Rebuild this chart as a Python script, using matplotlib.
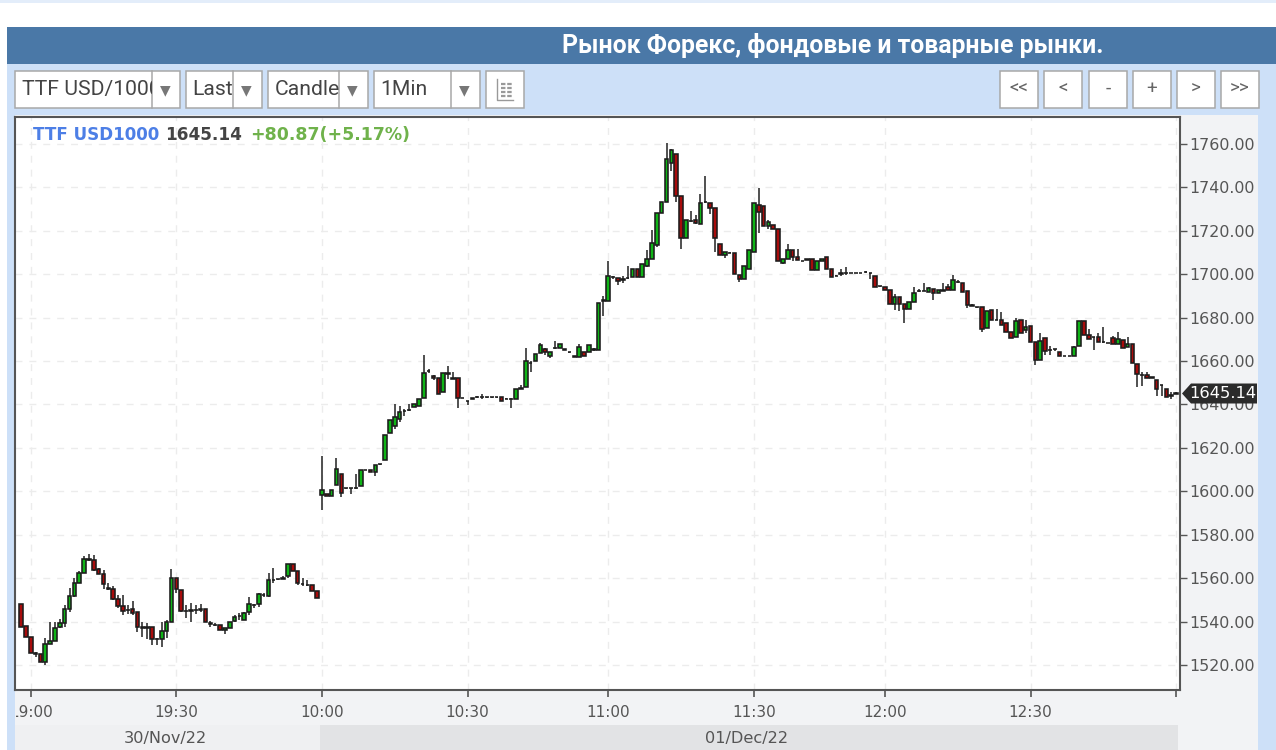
import numpy as np
import matplotlib
matplotlib.use("Agg")
import matplotlib.pyplot as plt
from matplotlib.patches import Rectangle, Polygon
from matplotlib.transforms import Bbox

# ---------- data (1-minute candles, index 0 = 19:00) ----------
open_ = [
1548.2,1538.0,1532.8,1525.4,1524.9,1521.5,1529.7,1531.1,1537.4,1539.2,
1545.7,1552.0,1557.7,1562.6,1568.9,1568.2,1564.2,1562.0,1555.7,1554.9,
1550.3,1547.2,1545.4,1545.7,1544.2,1537.4,1537.4,1537.7,1532.2,1532.2,
1535.8,1540.0,1560.0,1554.6,1545.1,1545.2,1545.4,1545.7,1545.7,1539.2,
1538.6,1538.5,1536.2,1536.9,1540.3,1542.6,1540.8,1544.2,1547.7,1548.0,
1552.3,1551.8,1559.2,1559.5,1560.0,1560.8,1566.5,1563.4,1557.4,1556.9,
1556.9,1554.3,1598.5,1598.9,1597.7,1603.1,1608.0,1601.5,1601.5,1601.5,
1602.3,1610.0,1609.6,1608.8,1612.4,1614.4,1627.0,1630.1,1633.5,1636.9,
1637.6,1638.9,1639.4,1643.0,1655.3,1653.0,1652.1,1645.6,1654.1,1652.1,
1652.1,1643.0,1641.6,1643.1,1643.3,1643.5,1643.3,1643.3,1643.3,1643.3,
1642.7,1642.7,1642.3,1647.1,1647.9,1659.0,1660.0,1663.8,1665.7,1662.1,
1666.0,1666.2,1665.4,1664.1,1662.3,1661.8,1664.1,1664.1,1665.4,1665.1,
1687.8,1687.8,1698.6,1698.3,1697.6,1698.2,1698.9,1702.2,1698.9,1703.7,
1707.1,1713.3,1728.0,1733.4,1751.2,1755.4,1736.0,1716.7,1724.6,1724.8,
1723.1,1733.3,1733.0,1730.3,1713.8,1708.7,1709.9,1709.6,1699.7,1697.6,
1702.5,1710.2,1731.9,1731.4,1722.3,1722.6,1720.7,1705.3,1706.8,1711.2,
1707.9,1706.2,1706.8,1707.1,1702.0,1705.9,1707.9,1702.5,1699.4,1700.3,
1700.6,1700.5,1700.5,1700.6,1700.9,1700.5,1699.4,1694.5,1694.0,1692.8,
1686.3,1689.7,1686.3,1684.0,1687.1,1692.2,1692.3,1691.7,1693.2,1691.4,
1692.5,1694.3,1692.5,1696.6,1695.9,1692.2,1685.6,1684.8,1684.8,1675.1,
1683.6,1679.1,1679.1,1677.4,1673.6,1671.0,1679.0,1674.3,1676.0,1668.7,
1660.5,1670.5,1665.1,1665.6,1664.1,1662.2,1662.2,1662.2,1667.1,1678.3,
1672.2,1671.0,1671.3,1668.7,1668.2,1670.5,1667.9,1669.7,1666.4,1667.9,
1658.5,1653.8,1653.6,1652.5,1651.3,1649.1,1647.3,1644.2,1645.0]
high = [
1548.2,1538.0,1532.8,1526.2,1524.9,1532.3,1540.0,1540.0,1541.1,1547.7,
1555.4,1560.0,1563.5,1570.3,1571.2,1570.8,1564.6,1563.8,1557.7,1556.2,
1552.3,1552.3,1547.7,1549.7,1544.2,1540.0,1539.2,1537.7,1532.3,1540.0,
1540.8,1564.2,1560.0,1554.6,1547.7,1548.5,1547.7,1548.2,1545.7,1540.5,
1539.2,1538.5,1537.2,1540.0,1543.1,1543.8,1544.6,1551.5,1548.0,1553.1,
1553.4,1562.6,1564.9,1559.7,1560.8,1566.5,1566.5,1563.4,1560.0,1559.2,
1556.9,1554.3,1616.2,1598.9,1600.8,1615.5,1608.0,1601.6,1601.6,1608.2,
1610.0,1610.0,1609.6,1611.9,1612.8,1625.8,1632.8,1640.2,1639.4,1637.9,
1640.2,1640.2,1642.5,1662.9,1656.4,1653.6,1652.1,1654.4,1657.7,1654.9,
1652.1,1643.2,1641.6,1643.1,1644.0,1644.8,1643.4,1643.4,1643.4,1643.3,
1642.8,1643.0,1647.1,1649.0,1666.0,1659.8,1663.4,1668.2,1666.0,1664.1,
1669.1,1668.0,1665.5,1664.2,1662.3,1668.0,1664.1,1667.5,1666.0,1686.8,
1690.1,1705.9,1699.4,1698.3,1699.4,1704.0,1702.2,1702.2,1704.8,1711.3,
1720.3,1728.0,1733.4,1760.5,1757.8,1755.4,1736.0,1724.8,1729.1,1727.2,
1737.0,1745.0,1733.0,1730.3,1713.8,1710.2,1710.0,1709.6,1699.7,1703.6,
1711.3,1733.0,1739.6,1731.4,1724.9,1722.6,1720.7,1707.1,1713.8,1711.2,
1711.5,1706.3,1706.9,1707.1,1706.1,1707.1,1707.9,1702.5,1699.5,1702.2,
1703.3,1700.6,1700.6,1700.7,1701.7,1700.6,1699.4,1694.6,1694.0,1692.8,
1690.9,1689.7,1686.3,1687.1,1694.3,1693.0,1695.9,1694.3,1693.2,1692.5,
1695.9,1695.5,1699.8,1697.4,1695.9,1692.2,1686.4,1684.9,1684.8,1682.9,
1683.6,1684.0,1682.5,1677.4,1673.6,1679.9,1679.0,1679.0,1676.0,1668.7,
1672.8,1670.5,1667.1,1665.7,1664.1,1662.3,1662.3,1667.1,1678.3,1678.3,
1674.8,1671.1,1672.8,1675.6,1668.3,1671.7,1673.3,1669.7,1671.3,1667.9,
1658.5,1654.9,1654.9,1652.6,1651.3,1649.2,1647.3,1645.6,1645.9]
low = [
1537.4,1532.8,1525.4,1523.8,1521.5,1520.0,1529.7,1531.1,1536.9,1537.4,
1544.6,1551.5,1557.7,1562.3,1567.7,1563.1,1561.7,1554.9,1554.6,1550.0,
1546.2,1543.1,1543.5,1543.1,1535.4,1533.1,1531.8,1529.2,1529.2,1528.5,
1532.3,1540.0,1553.4,1544.6,1541.5,1540.0,1543.5,1544.6,1540.0,1537.4,
1538.0,1536.2,1534.2,1536.9,1540.0,1540.8,1540.8,1543.1,1546.2,1546.9,
1551.2,1551.5,1558.0,1559.2,1559.5,1560.0,1563.4,1556.9,1556.2,1556.2,
1554.3,1551.1,1591.5,1597.7,1597.7,1603.1,1597.4,1601.2,1598.9,1601.2,
1602.3,1609.6,1608.8,1607.0,1611.9,1614.4,1627.0,1628.6,1631.7,1634.8,
1637.1,1638.9,1639.4,1643.0,1654.6,1651.5,1644.8,1645.6,1651.8,1651.9,
1638.6,1642.9,1639.7,1642.3,1642.9,1642.5,1643.2,1643.2,1643.2,1641.6,
1642.6,1638.6,1642.3,1647.1,1647.9,1654.9,1660.0,1663.8,1662.6,1661.4,
1665.7,1666.2,1665.1,1663.8,1661.7,1661.8,1662.3,1664.1,1664.7,1665.1,
1680.9,1687.8,1697.9,1695.2,1695.9,1697.6,1698.9,1698.9,1698.9,1703.2,
1707.1,1712.6,1728.0,1733.4,1747.6,1733.4,1711.8,1716.7,1723.9,1723.1,
1723.1,1732.6,1727.5,1710.0,1708.7,1707.6,1709.7,1700.2,1696.6,1697.6,
1702.5,1710.2,1719.0,1722.3,1721.0,1720.6,1706.2,1704.5,1706.8,1705.9,
1706.4,1706.0,1706.6,1702.0,1702.0,1705.9,1702.5,1698.9,1699.2,1699.4,
1699.7,1700.4,1700.4,1700.5,1700.7,1697.6,1694.3,1694.3,1692.8,1686.3,
1683.6,1683.0,1677.4,1684.0,1687.1,1692.0,1692.1,1691.7,1687.9,1691.4,
1692.3,1692.5,1692.5,1695.9,1691.7,1684.5,1685.4,1684.6,1673.3,1675.1,
1679.1,1678.9,1676.8,1673.3,1670.7,1671.0,1673.0,1672.8,1668.7,1658.2,
1660.5,1662.8,1662.8,1664.5,1662.2,1662.1,1662.1,1662.2,1667.1,1672.2,
1670.2,1665.1,1668.7,1668.5,1668.1,1667.9,1667.9,1666.0,1666.4,1659.3,
1647.9,1648.7,1652.2,1652.3,1644.1,1644.1,1643.3,1642.5,1644.8]
close = [
1537.4,1532.8,1525.4,1525.1,1521.5,1529.7,1531.1,1536.9,1539.2,1545.7,
1552.0,1557.7,1562.6,1568.9,1568.2,1563.8,1562.0,1557.4,1555.1,1550.3,
1547.2,1545.1,1545.2,1543.8,1537.4,1537.2,1537.2,1532.2,1532.0,1535.8,
1540.0,1560.0,1554.9,1544.9,1544.9,1545.1,1545.2,1545.5,1540.0,1539.1,
1538.5,1536.2,1537.2,1540.0,1542.3,1542.5,1543.8,1548.0,1547.5,1552.6,
1552.2,1559.2,1559.1,1559.4,1559.8,1566.5,1563.4,1557.7,1557.2,1556.8,
1554.3,1551.1,1600.8,1597.7,1600.8,1610.4,1599.2,1601.4,1601.4,1601.4,
1610.0,1609.6,1608.8,1611.9,1612.8,1625.8,1632.8,1634.3,1636.6,1637.1,
1637.5,1640.2,1642.5,1654.6,1655.5,1652.1,1644.8,1654.4,1654.4,1651.9,
1643.0,1643.1,1641.4,1642.3,1643.4,1643.6,1643.3,1643.3,1643.3,1641.6,
1642.7,1642.7,1647.1,1647.4,1660.0,1659.2,1663.4,1667.5,1664.1,1664.1,
1666.2,1668.0,1665.2,1664.0,1661.7,1666.5,1662.3,1667.5,1665.2,1686.8,
1687.9,1699.4,1698.5,1696.8,1697.4,1698.3,1702.2,1698.9,1704.8,1707.1,
1714.4,1728.0,1733.4,1753.0,1757.1,1736.0,1716.7,1724.8,1724.5,1723.8,
1732.8,1733.4,1730.3,1716.7,1708.7,1710.2,1709.8,1700.2,1697.6,1703.6,
1711.3,1733.0,1728.5,1722.3,1724.1,1720.6,1706.2,1707.1,1711.2,1707.9,
1706.4,1706.1,1706.7,1702.0,1706.1,1707.1,1702.5,1698.9,1699.3,1700.5,
1700.5,1700.5,1700.5,1700.6,1700.8,1700.4,1694.3,1694.4,1692.8,1686.3,
1689.4,1686.3,1684.0,1687.1,1691.2,1692.1,1692.2,1693.5,1691.4,1692.5,
1692.4,1692.5,1697.4,1696.5,1691.7,1686.0,1685.5,1684.7,1674.8,1682.9,
1679.1,1679.0,1676.8,1673.3,1670.7,1678.6,1673.0,1675.9,1668.7,1660.5,
1669.4,1664.8,1665.0,1665.5,1662.2,1662.2,1662.2,1666.7,1678.3,1672.2,
1670.2,1670.9,1668.7,1668.6,1668.2,1667.9,1670.2,1666.0,1667.9,1659.3,
1654.1,1653.7,1652.2,1652.4,1647.2,1649.0,1643.3,1644.1,1645.14]
first_index = -2

price_ticks = [1520, 1540, 1560, 1580, 1600, 1620, 1660, 1680, 1700, 1720, 1740, 1760]
hidden_price_tick = 1640
time_tick_index = [0, 30, 60, 90, 119, 149, 176, 206, 236]
time_tick_labels = ["19:00", "19:30", "10:00", "10:30", "11:00", "11:30", "12:00", "12:30", ""]

symbol = "TTF USD1000"
last_text = "1645.14"
change_text = "+80.87(+5.17%)"
title_text = "Рынок Форекс, фондовые и товарные рынки."

assert len(open_) == len(high) == len(low) == len(close)

# ---------- figure ----------
W, H = 1276, 750
fig = plt.figure(figsize=(W / 100, H / 100), dpi=100, facecolor="white")

bg = fig.add_axes([0, 0, 1, 1], zorder=0)
bg.set_xlim(0, W); bg.set_ylim(H, 0); bg.axis("off")
top = fig.add_axes([0, 0, 1, 1], zorder=3)
top.set_xlim(0, W); top.set_ylim(H, 0); top.axis("off"); top.patch.set_alpha(0)


def rect(a, x0, y0, x1, y1, fc, ec="none", lw=0, z=1):
    a.add_patch(Rectangle((x0, y0), x1 - x0, y1 - y0, fc=fc, ec=ec, lw=lw, zorder=z))


def px_clip(x0, x1):
    return Bbox([[x0, 0], [x1, H]])


GREY = "#555555"
rect(bg, 0, 0, W, 3, "#e3edfa")
rect(bg, 7, 64, W, H, "#cde0f8")
rect(bg, 7, 27, W, 64, "#4a78a7")
bg.text(562, 45, title_text, color="white", family="Roboto", weight="bold",
        fontsize=17.8, va="center", ha="left", zorder=3)

# plot strip and date bands
rect(bg, 15, 115, 1258, 750, "#f2f3f5")
rect(bg, 15, 725, 320, 750, "#eff0f2", z=2)
rect(bg, 320, 725, 1178, 750, "#e2e3e5", z=2)
bg.text(165, 738, "30/Nov/22", color=GREY, fontsize=11.6, ha="center", va="center", zorder=3)
bg.text(747, 739, "01/Dec/22", color=GREY, fontsize=11.6, ha="center", va="center", zorder=3)

# controls
BORDER = "#a8a8a8"
selects = [(15, 152, 180, "TTF USD/1000"), (186, 233, 262, "Last"),
           (268, 339, 368, "Candle"), (374, 451, 480, "1Min")]
for x0, xd, x1, label in selects:
    rect(bg, x0, 71, x1, 108, "white", BORDER, 1.1, z=2)
    bg.plot([xd, xd], [71, 108], color=BORDER, lw=1.1, zorder=3)
    t = bg.text(x0 + 6.5, 89.5, label, color="#444444", family="Roboto", fontsize=15.2,
                ha="left", va="center", zorder=3)
    t.set_clip_on(True); t.set_clip_box(px_clip(x0, xd))
    bg.text((xd + x1) / 2 - 1, 90, "▼", color="#777777", fontsize=10, ha="center", va="center", zorder=3)

rect(bg, 486, 71, 524, 108, "white", BORDER, 1.1, z=2)
bg.plot([497, 497, 513], [79, 100, 100], color="#999999", lw=1, zorder=3)
for yy in (84, 88, 92, 96):
    bg.plot([501, 512], [yy, yy], color="#999999", lw=1.6, ls=(0, (2, 0.8)), zorder=3)

buttons = [(1000, "<<"), (1044, "<"), (1089, "-"), (1133, "+"), (1177, ">"), (1221, ">>")]
for x0, label in buttons:
    rect(bg, x0, 71, x0 + 38, 108, "white", BORDER, 1.1, z=2)
    bg.text(x0 + 19, 89, label, color="#666666", family="Roboto", fontsize=13.5,
            ha="center", va="center", zorder=3)

# chart
ax = fig.add_axes([15 / W, 1 - 690 / H, 1165 / W, 573 / H], zorder=1, facecolor="white")
ax.set_xlim(-3.24, 236.8)
ax.set_ylim(1508.5, 1772.4)

idx = np.arange(len(open_)) + first_index
o, h, l, c = map(np.array, (open_, high, low, close))
up = c >= o
ax.vlines(idx, l, h, color="#3a3a3a", lw=1.25, zorder=3)
ax.bar(idx, np.abs(c - o), bottom=np.minimum(o, c), width=0.74,
       color=np.where(up, "#0fb416", "#a80c0c"), edgecolor="#1c1c1c", linewidth=1.15, zorder=4)

all_ticks = sorted(price_ticks + [hidden_price_tick])
ax.set_yticks(all_ticks)
ax.set_yticklabels([f"{p:.2f}" for p in all_ticks])
ax.yaxis.tick_right()
ax.set_xticks(time_tick_index)
ax.set_xticklabels(time_tick_labels)
ax.tick_params(axis="y", direction="out", length=5, width=1, color=GREY, labelcolor=GREY,
               labelsize=11.4, pad=1.5)
ax.tick_params(axis="x", direction="out", length=5, width=1.2, color=GREY, labelcolor=GREY,
               labelsize=11, pad=6)
ax.grid(True, color="#ececec", lw=1.0, ls=(0, (5, 5)), zorder=0)
ax.set_axisbelow(True)
for s in ax.spines.values():
    s.set_color("#555555"); s.set_linewidth(1.5)
for lbl in ax.get_xticklabels():
    lbl.set_clip_on(True); lbl.set_clip_box(px_clip(16, W))

# legend line
bg_y = 135
top.text(33, bg_y, symbol, color="#4d7fe6", weight="bold", fontsize=12.1, ha="left", va="center")
top.text(165, bg_y, last_text, color="#444444", weight="bold", fontsize=12.2, ha="left", va="center")
top.text(250, bg_y, change_text, color="#6fb24b", weight="bold", fontsize=12.5, ha="left", va="center")

# last price flag (covers most of the 1640.00 label, as in the reference)
py = 393.5
top.add_patch(Polygon([(1182, py), (1191, py - 10), (1257, py - 10), (1257, py + 10), (1191, py + 10)],
                      closed=True, fc="#2b2b2b", ec="none", zorder=5))
t = top.text(1189, py + 0.5, last_text, color="white", fontsize=11.8, ha="left", va="center", zorder=6)
t.set_clip_on(True); t.set_clip_box(px_clip(1182, 1256))

fig.savefig("out.png", dpi=100, facecolor="white")
